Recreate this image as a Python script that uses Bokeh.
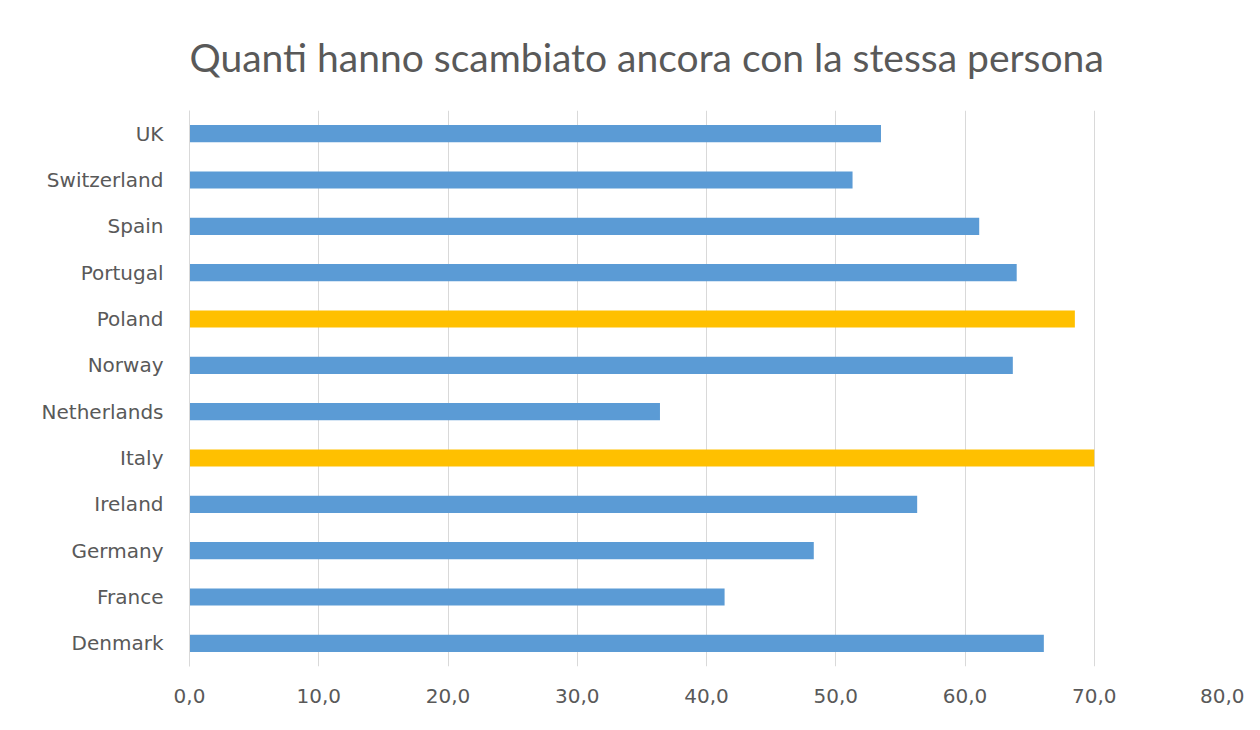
from bokeh.plotting import figure
from bokeh.models import ColumnDataSource, FactorRange, Range1d, FixedTicker
from bokeh.embed import file_html
from bokeh.resources import INLINE

countries = ["Denmark", "France", "Germany", "Ireland", "Italy", "Netherlands",
             "Norway", "Poland", "Portugal", "Spain", "Switzerland", "UK"]
values = [66.1, 41.4, 48.3, 56.3, 70.0, 36.4, 63.7, 68.5, 64.0, 61.1, 51.3, 53.5]
highlight = ["Italy", "Poland"]
x_ticks = [0, 10, 20, 30, 40, 50, 60, 70, 80]
x_tick_labels = ["0,0", "10,0", "20,0", "30,0", "40,0", "50,0", "60,0", "70,0", "80,0"]
title_text = "Quanti hanno scambiato ancora con la stessa persona"

BLUE = "#5B9BD5"
GOLD = "#FFC000"
colors = [GOLD if c in highlight else BLUE for c in countries]

source = ColumnDataSource(dict(country=countries, value=values, color=colors))

p = figure(width=1244, height=714, output_backend="svg", toolbar_location=None,
           y_range=FactorRange(*countries), x_range=Range1d(0, 80),
           min_border_left=189, min_border_right=21, min_border_top=110,
           min_border_bottom=48, title=title_text)

p.hbar(y="country", right="value", left=0, height=0.37, color="color",
       source=source, line_color=None)

p.title.text_font = "Lato"
p.title.text_font_size = "39px"
p.title.text_font_style = "normal"
p.title.text_color = "#595959"
p.title.align = "left"
p.title.offset = 0
p.title.standoff = 61

p.outline_line_color = None
p.background_fill_color = "white"
p.border_fill_color = "white"

# x axis
p.xaxis.ticker = FixedTicker(ticks=x_ticks)
p.xaxis.major_label_overrides = {t: l for t, l in zip(x_ticks, x_tick_labels)}
p.xaxis.axis_line_color = None
p.xaxis.major_tick_line_color = None
p.xaxis.major_tick_out = 0
p.xaxis.minor_tick_line_color = None
p.xaxis.major_label_text_font = "DejaVu Sans"
p.xaxis.major_label_text_font_size = "20px"
p.xaxis.major_label_text_color = "#595959"
p.xaxis.major_label_standoff = 22

# y axis
p.yaxis.axis_line_color = "#D9D9D9"
p.yaxis.major_tick_line_color = None
p.yaxis.major_tick_out = 0
p.yaxis.minor_tick_line_color = None
p.yaxis.major_label_text_font = "DejaVu Sans"
p.yaxis.major_label_text_font_size = "20px"
p.yaxis.major_label_text_color = "#595959"
p.yaxis.major_label_standoff = 26

p.xgrid.grid_line_color = "#D9D9D9"
p.xgrid.grid_line_width = 1
p.ygrid.grid_line_color = None

open("out.html", "w").write(file_html(p, INLINE))
